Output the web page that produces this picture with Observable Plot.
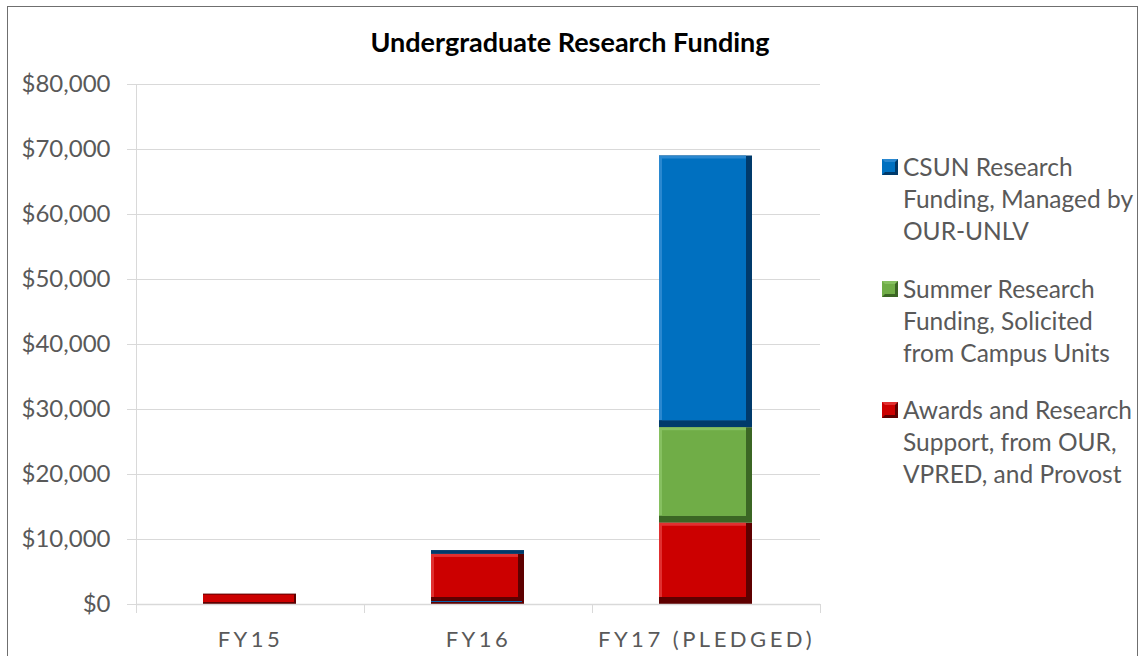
<!DOCTYPE html>
<html>
<head>
<meta charset="utf-8">
<script src="https://cdn.jsdelivr.net/npm/d3@7"></script>
<script src="https://cdn.jsdelivr.net/npm/@observablehq/plot@0.6"></script>
<style>
  html, body { margin: 0; padding: 0; background: #fff; }
  #wrap { position: relative; width: 1138px; height: 656px; overflow: hidden; font-family: Lato, "Open Sans", sans-serif; }
  #border { position: absolute; left: 7px; top: 6px; width: 1131px; height: 700px; border: 1px solid #6f6f6f; box-sizing: border-box; }
  #title { position: absolute; left: 0; width: 1140px; top: 25px; text-align: center; font-weight: bold; font-size: 27px; line-height: normal; color: #000; }
  #chart { position: absolute; left: 0; top: 0; }
  #legend { position: absolute; left: 882px; top: 151px; color: #595959; font-size: 24.5px; line-height: 32px; white-space: nowrap; }
  .item { display: flex; align-items: flex-start; margin-bottom: 25.5px; }
  .sw { width: 10px; height: 10px; border-style: solid; border-width: 3px; margin-top: 8px; margin-right: 5px; flex: none; }
  #chart svg [aria-label="x-axis tick label"] text { letter-spacing: 3.5px; }
</style>
</head>
<body>
<div id="wrap">
  <div id="border"></div>
  <div id="chart"></div>
  <div id="title">Undergraduate Research Funding</div>
  <div id="legend"></div>
</div>
<script>
const years = ["FY15", "FY16", "FY17 (PLEDGED)"];
const seriesNames = [
  "Awards and Research Support, from OUR, VPRED, and Provost",
  "Summer Research Funding, Solicited from Campus Units",
  "CSUN Research Funding, Managed by OUR-UNLV"
];
const legendLines = [
  ["CSUN Research", "Funding, Managed by", "OUR-UNLV"],
  ["Summer Research", "Funding, Solicited", "from Campus Units"],
  ["Awards and Research", "Support, from OUR,", "VPRED, and Provost"]
];
const awardsValues = [1600, 7700, 12500];
const summerValues = [0, 0, 14700];
const csunValues = [0, 600, 41800];
const yTicks = [0, 10000, 20000, 30000, 40000, 50000, 60000, 70000, 80000];
const mainColors = ["#cc0000", "#70ad47", "#0070c0"];
const darkColors = ["#5e0000", "#3b6624", "#003a6b"];
const lightColors = ["#e03030", "#86c060", "#2a88d0"];

const seriesValues = [awardsValues, summerValues, csunValues];
const table = [];
seriesValues.forEach((vals, si) => {
  vals.forEach((v, yi) => {
    if (v > 0) table.push({year: years[yi], series: seriesNames[si], value: v, si});
  });
});

const W = 1138, H = 656;
const mL = 136, mR = 318, mT = 84, mB = 52;
const step = (W - mL - mR) / years.length;

const stackOpts = {x: "year", y: "value", z: "series", order: seriesNames};

const plot = Plot.plot({
  width: W,
  height: H,
  marginLeft: mL,
  marginRight: mR,
  marginTop: mT,
  marginBottom: mB,
  style: {fontFamily: "Lato, 'Open Sans', sans-serif", background: "transparent", overflow: "visible"},
  x: {domain: years, padding: 0, label: null},
  y: {domain: [0, 80000], label: null},
  marks: [
    Plot.gridY(yTicks, {stroke: "#d9d9d9", strokeOpacity: 1}),
    Plot.axisY(yTicks, {tickSize: 9, tickPadding: 17, stroke: "#d9d9d9", fill: "#595959", fontSize: 24, tickFormat: d3.format("$,"), label: null}),
    Plot.ruleX([years[0]], {dx: -step / 2, y1: 0, y2: 80000, stroke: "#d9d9d9"}),
    Plot.barY(table, Plot.stackY({...stackOpts, fill: d => darkColors[d.si], insetLeft: 67, insetRight: 68})),
    Plot.barY(table.filter(d => d.value >= 2000), Plot.stackY({...stackOpts, fill: d => lightColors[d.si], insetLeft: 67, insetRight: 74, insetTop: 0, insetBottom: 7})),
    Plot.barY(table.filter(d => d.value >= 2000), Plot.stackY({...stackOpts, fill: d => mainColors[d.si], insetLeft: 70, insetRight: 74, insetTop: 3, insetBottom: 7})),
    Plot.barY(table.filter(d => d.value < 2000), Plot.stackY({...stackOpts, fill: d => mainColors[d.si], insetLeft: 67, insetRight: 70, insetTop: 1, insetBottom: 2})),
    Plot.ruleY([0], {stroke: "#d9d9d9", strokeWidth: 1.5}),
    Plot.axisX({tickSize: 9, dx: -step / 2, stroke: "#d9d9d9", text: null, label: null}),
    Plot.axisX([years[years.length - 1]], {tickSize: 9, dx: step / 2, stroke: "#d9d9d9", text: null, label: null}),
    Plot.axisX({tickSize: 0, tickPadding: 27, fill: "#595959", fontSize: 22, label: null})
  ]
});
document.getElementById("chart").appendChild(plot);

const legend = document.getElementById("legend");
const legendOrder = [2, 1, 0];
legendOrder.forEach((si, i) => {
  const item = document.createElement("div");
  item.className = "item";
  const sw = document.createElement("div");
  sw.className = "sw";
  sw.style.background = mainColors[si];
  sw.style.borderColor = `${lightColors[si]} ${darkColors[si]} ${darkColors[si]} ${mainColors[si]}`;
  const txt = document.createElement("div");
  txt.innerHTML = legendLines[i].join("<br>");
  item.appendChild(sw);
  item.appendChild(txt);
  legend.appendChild(item);
});
</script>
</body>
</html>
